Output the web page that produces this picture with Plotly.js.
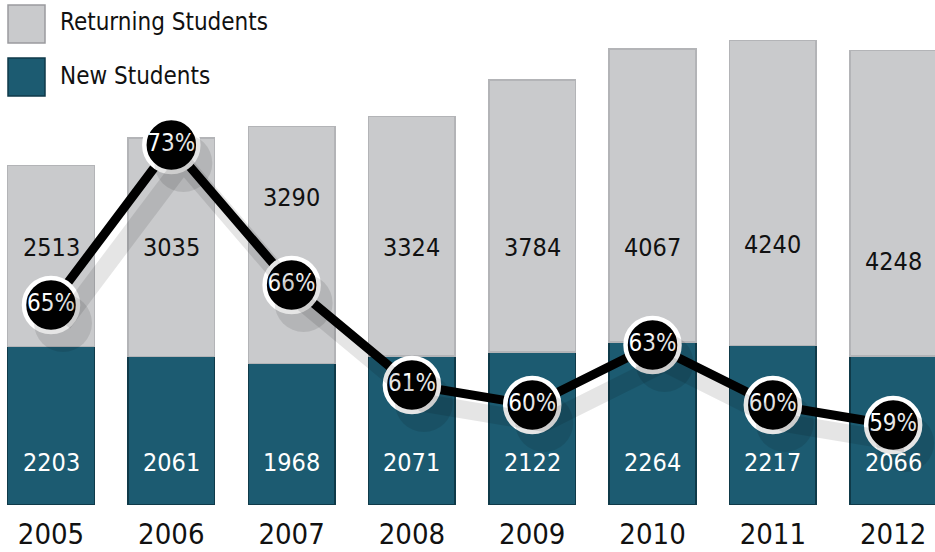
<!DOCTYPE html>
<html>
<head>
<meta charset="utf-8">
<script src="https://cdn.plot.ly/plotly-3.0.1.min.js"></script>
<style>html,body{margin:0;padding:0;background:#fff;}#chart{width:935px;height:552px;}</style>
</head>
<body>
<div id="chart"></div>
<script>
// ---- data ----
var years = ['2005','2006','2007','2008','2009','2010','2011','2012'];
var newStudents = [2203, 2061, 1968, 2071, 2122, 2264, 2217, 2066];
var returningStudents = [2513, 3035, 3290, 3324, 3784, 4067, 4240, 4248];
var percentLabels = ['65%','73%','66%','61%','60%','63%','60%','59%'];
var percentValues = [65, 73, 66, 61, 60, 63, 60, 59];

// ---- layout helpers (positions only) ----
var FONT = '"DejaVu Sans Condensed", "Liberation Sans", sans-serif';
var W = 935, H = 552, MT = 40, MB = 47;
var PH = H - MT - MB;
function py(pix) { return (H - MB - pix) / PH; }   // pixel y -> paper y
var xr = [-0.424, 7.348];
var y2r = [55, 78.25];
var newLabelY = 597;
var retLabelY = [3570, 3570, 4264, 3570, 3570, 3570, 3611, 3375];
var pxPerCat = W / (xr[1] - xr[0]);
var shX = 12 / pxPerCat, shY = 18 / 20;

var traces = [
  {type:'bar', x: years, y: newStudents, name:'New Students', width:0.72,
   marker:{color:'#1c5b71', line:{color:'#0f3a49', width:1.5}}, hoverinfo:'y'},
  {type:'bar', x: years, y: returningStudents, name:'Returning Students', width:0.72,
   marker:{color:'#c9cacc', line:{color:'#b3b4b7', width:1.5}}, hoverinfo:'y'},
  {type:'scatter', x: years, y: percentValues, xaxis:'x2', yaxis:'y3', mode:'lines+markers',
   line:{color:'rgba(0,0,0,0.10)', width:18}, marker:{size:58, color:'rgba(0,0,0,0.10)'},
   hoverinfo:'skip', showlegend:false},
  {type:'scatter', x: years, y: percentValues, yaxis:'y2', mode:'lines+markers+text',
   text: percentLabels, textposition:'middle center',
   textfont:{family:FONT, size:24, color:'#ffffff'},
   line:{color:'#000000', width:9},
   marker:{size:54, color:'#000000', line:{color:'#ffffff', width:4.5}},
   hoverinfo:'text', showlegend:false}
];

var annotations = [];
for (var i = 0; i < years.length; i++) {
  annotations.push({x: i, y: newLabelY, xref:'x', yref:'y', text: String(newStudents[i]),
    showarrow:false, font:{family:FONT, size:25, color:'#ffffff'}});
  annotations.push({x: i, y: retLabelY[i], xref:'x', yref:'y', text: String(returningStudents[i]),
    showarrow:false, font:{family:FONT, size:25, color:'#111111'}});
}
// legend text
annotations.push({xref:'paper', yref:'paper', x:58/W, y:py(22), xanchor:'left', yanchor:'middle',
  text:'Returning Students', showarrow:false, font:{family:FONT, size:24, color:'#111111'}});
annotations.push({xref:'paper', yref:'paper', x:58/W, y:py(76), xanchor:'left', yanchor:'middle',
  text:'New Students', showarrow:false, font:{family:FONT, size:24, color:'#111111'}});

var shapes = [
  {type:'rect', xref:'paper', yref:'paper', x0:8/W, x1:45/W, y0:py(43), y1:py(5),
   fillcolor:'#c9cacc', line:{color:'#9a9b9e', width:1.5}},
  {type:'rect', xref:'paper', yref:'paper', x0:8/W, x1:45/W, y0:py(96), y1:py(58),
   fillcolor:'#1c5b71', line:{color:'#0f3a49', width:1.5}}
];

var layout = {
  width:W, height:H,
  margin:{l:0, r:0, t:MT, b:MB},
  paper_bgcolor:'#ffffff', plot_bgcolor:'#ffffff',
  barmode:'stack', showlegend:false,
  xaxis:{type:'category', range:xr, showgrid:false, zeroline:false, showline:false, ticks:'',
    tickfont:{family:FONT, size:29, color:'#111111'}, ticklabelstandoff:9, fixedrange:true},
  xaxis2:{type:'category', range:[xr[0]-shX, xr[1]-shX], overlaying:'x', visible:false},
  yaxis:{range:[0, 6458], visible:false, fixedrange:true},
  yaxis2:{range:y2r, overlaying:'y', visible:false},
  yaxis3:{range:[y2r[0]+shY, y2r[1]+shY], overlaying:'y', visible:false},
  annotations: annotations,
  shapes: shapes
};

Plotly.newPlot('chart', traces, layout, {displayModeBar:false, staticPlot:true});
</script>
</body>
</html>
